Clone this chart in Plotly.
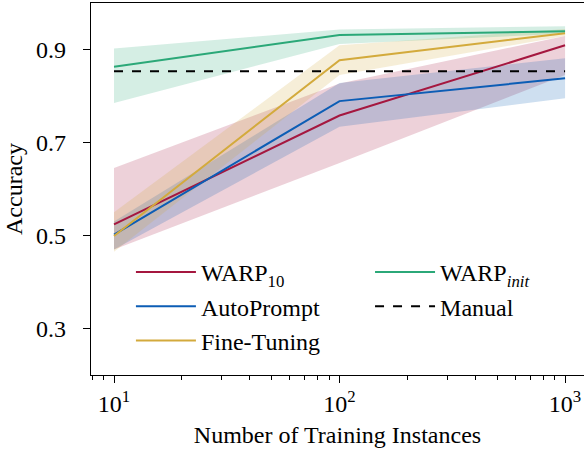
import plotly.graph_objects as go

# Data
n_train = [10, 100, 1000]

warp10 = [0.524, 0.758, 0.909]
warp10_hi = [0.645, 0.827, 0.929]
warp10_lo = [0.470, 0.656, 0.845]

autoprompt = [0.502, 0.789, 0.838]
autoprompt_hi = [0.530, 0.828, 0.881]
autoprompt_lo = [0.470, 0.734, 0.795]

finetune = [0.499, 0.877, 0.935]
finetune_hi = [0.550, 0.909, 0.944]
finetune_lo = [0.465, 0.845, 0.929]

warpinit = [0.863, 0.931, 0.939]
warpinit_hi = [0.902, 0.943, 0.950]
warpinit_lo = [0.785, 0.912, 0.934]

manual = [0.853, 0.853, 0.853]

x_tick_vals = [10, 100, 1000]
x_tick_text = ["10<sup>1</sup>", "10<sup>2</sup>", "10<sup>3</sup>"]
y_tick_vals = [0.3, 0.5, 0.7, 0.9]
y_tick_text = ["0.3", "0.5", "0.7", "0.9"]

series = [
    ("WARP<sub>10</sub>", warp10, warp10_hi, warp10_lo, "#a5173f", "rgba(165,23,63,0.2)", "legend"),
    ("AutoPrompt", autoprompt, autoprompt_hi, autoprompt_lo, "#0c5db5", "rgba(12,93,181,0.2)", "legend"),
    ("Fine-Tuning", finetune, finetune_hi, finetune_lo, "#d3aa3c", "rgba(211,170,60,0.2)", "legend"),
    ("WARP<sub><i>init</i></sub>", warpinit, warpinit_hi, warpinit_lo, "#2ba878", "rgba(43,168,120,0.2)", "legend2"),
]

FONT = "Liberation Serif"
FS = 24
fig = go.Figure()

for i, (name, y, hi, lo, col, fillcol, lg) in enumerate(series):
    fig.add_trace(go.Scatter(
        x=n_train + n_train[::-1], y=hi + lo[::-1], fill="toself",
        fillcolor=fillcol, line=dict(width=0), mode="lines",
        hoverinfo="skip", showlegend=False))

for i, (name, y, hi, lo, col, fillcol, lg) in enumerate(series):
    fig.add_trace(go.Scatter(
        x=n_train, y=y, mode="lines", name=name,
        line=dict(color=col, width=2), legend=lg, legendgroup=f"g{i}"))

fig.add_trace(go.Scatter(
    x=n_train, y=manual, mode="lines", name="Manual",
    line=dict(color="black", width=2, dash="dash"), legend="legend2", legendgroup="g5"))

legend_common = dict(
    font=dict(family=FONT, size=FS, color="black"),
    bgcolor="rgba(0,0,0,0)", borderwidth=0,
    traceorder="grouped", tracegroupgap=0, itemwidth=60,
    xanchor="left", yanchor="top",
)

minor_vals = [8, 9] + [k * 10 for k in range(2, 10)] + [k * 100 for k in range(2, 10)]

fig.update_layout(
    width=584, height=450,
    margin=dict(l=91, r=0, t=3, b=75),
    paper_bgcolor="white", plot_bgcolor="white",
    font=dict(family=FONT, size=FS, color="black"),
    legend=dict(x=0.081, y=0.336, **legend_common),
    legend2=dict(x=0.566, y=0.336, **legend_common),
    xaxis=dict(
        type="log", range=[0.898, 3.084],
        tickvals=x_tick_vals, ticktext=x_tick_text,
        ticks="outside", ticklen=7, tickwidth=1.2, tickcolor="black",
        minor=dict(tickvals=minor_vals, ticks="outside", ticklen=4, tickwidth=1, tickcolor="black"),
        showline=True, linecolor="black", linewidth=1.2, mirror=True,
        showgrid=False, zeroline=False,
        title=dict(text="Number of Training Instances", font=dict(family=FONT, size=FS), standoff=10),
        tickfont=dict(family=FONT, size=FS),
    ),
    yaxis=dict(
        range=[0.2, 1.0],
        tickvals=y_tick_vals, ticktext=y_tick_text,
        ticks="outside", ticklen=7, tickwidth=1.2, tickcolor="black",
        ticklabelstandoff=12,
        showline=True, linecolor="black", linewidth=1.2, mirror=False,
        showgrid=False, zeroline=False,
        title=dict(text="Accuracy", font=dict(family=FONT, size=FS), standoff=6),
        tickfont=dict(family=FONT, size=FS),
    ),
)

fig.write_html(
    "out.html",
    config={"displayModeBar": False},
    post_script="document.body.style.margin='0px';document.body.style.overflow='hidden';",
)
